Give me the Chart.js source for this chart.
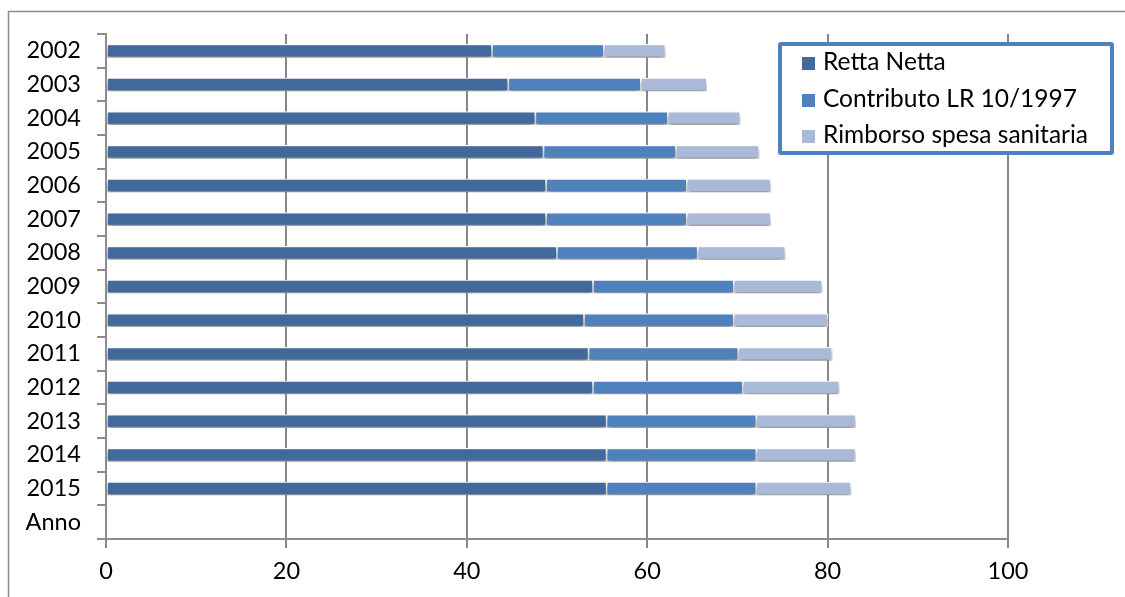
<!DOCTYPE html>
<html lang="it">
<head>
<meta charset="utf-8">
<script src="https://cdn.jsdelivr.net/npm/chart.js@4.4.1/dist/chart.umd.min.js"></script>
<style>
    body { margin: 0; background: #ffffff; }
    #contenitore { position: relative; width: 1125px; height: 597px; }
    #legenda {
        position: absolute;
        left: 778px;
        top: 42px;
        width: 336px;
        height: 113px;
        border: 4px solid #4f81bd;
        border-radius: 3px;
        background: #ffffff;
        font-family: Lato, "Open Sans", sans-serif;
        font-size: 24.5px;
        color: #000000;
        box-sizing: border-box;
        padding-top: 0px;
    }
    .voce { position: relative; top: -3px; height: 36.5px; line-height: 36.5px; padding-left: 20px; white-space: nowrap; }
    .quadrato { display: inline-block; width: 13px; height: 13px; margin-right: 8px; vertical-align: 0px; }
</style>
</head>
<body>
<div id="contenitore">
    <canvas id="graficoRette" width="1125" height="597"></canvas>
    <div id="legenda"></div>
</div>
<script>
const anni = ['2002', '2003', '2004', '2005', '2006', '2007', '2008', '2009', '2010', '2011', '2012', '2013', '2014', '2015', 'Anno'];

// valori (l'ultima riga "Anno" e' vuota)
const rettaNetta = [42.8, 44.6, 47.6, 48.5, 48.8, 48.8, 50.0, 54.0, 53.0, 53.5, 54.0, 55.5, 55.5, 55.5, null];
const contributoLR = [12.4, 14.7, 14.7, 14.7, 15.6, 15.6, 15.6, 15.6, 16.6, 16.6, 16.6, 16.6, 16.6, 16.6, null];
const rimborsoSanitario = [6.8, 7.3, 8.0, 9.2, 9.3, 9.3, 9.7, 9.8, 10.4, 10.4, 10.7, 11.0, 11.0, 10.5, null];

const tickAsseX = [0, 20, 40, 60, 80, 100];

const coloriSerie = ['#41699c', '#4f81bd', '#a9b9d7'];
const fontGrafico = 'Lato, "Open Sans", sans-serif';

// ombra sotto le barre
const pluginOmbra = {
    id: 'ombraBarre',
    beforeDatasetsDraw(chart) {
        const ctx = chart.ctx;
        ctx.save();
        ctx.shadowColor = 'rgba(0, 0, 0, 0.45)';
        ctx.shadowBlur = 4;
        ctx.shadowOffsetY = 3;
    },
    afterDatasetsDraw(chart) {
        chart.ctx.restore();
    }
};

// cornice esterna (solo lato sinistro e superiore sono visibili)
const pluginCornice = {
    id: 'cornice',
    beforeDraw(chart) {
        const ctx = chart.ctx;
        ctx.save();
        ctx.strokeStyle = '#8c8c8c';
        ctx.lineWidth = 1.5;
        ctx.beginPath();
        ctx.moveTo(8.5, 597);
        ctx.lineTo(8.5, 11.5);
        ctx.lineTo(1125, 11.5);
        ctx.stroke();
        ctx.restore();
    }
};

const ctxRette = document.getElementById('graficoRette').getContext('2d');
const graficoRette = new Chart(ctxRette, {
    type: 'bar',
    data: {
        labels: anni,
        datasets: [{
            label: 'Retta Netta',
            data: rettaNetta,
            backgroundColor: coloriSerie[0]
        }, {
            label: 'Contributo LR 10/1997',
            data: contributoLR,
            backgroundColor: coloriSerie[1]
        }, {
            label: 'Rimborso spesa sanitaria',
            data: rimborsoSanitario,
            backgroundColor: coloriSerie[2]
        }]
    },
    options: {
        indexAxis: 'y',
        responsive: false,
        animation: false,
        devicePixelRatio: 1,
        layout: {
            padding: { left: 0, top: 34, right: 117, bottom: 0 }
        },
        datasets: {
            bar: {
                barThickness: 13,
                borderColor: '#ffffff',
                borderWidth: 1.2,
                borderSkipped: false
            }
        },
        scales: {
            x: {
                stacked: true,
                min: 0,
                max: 100,
                afterBuildTicks: (scala) => {
                    scala.ticks = tickAsseX.map(v => ({ value: v }));
                },
                afterFit: (scala) => {
                    scala.height = 58;
                },
                grid: {
                    color: '#878787',
                    lineWidth: 2,
                    tickLength: 9,
                    tickColor: '#878787'
                },
                border: {
                    display: true,
                    color: '#8c8c8c',
                    width: 2
                },
                ticks: {
                    color: '#000000',
                    padding: 9,
                    font: { family: fontGrafico, size: 23.5 }
                }
            },
            y: {
                stacked: true,
                afterFit: (scala) => {
                    scala.width = 106;
                },
                grid: {
                    drawOnChartArea: false,
                    offset: true,
                    color: '#8c8c8c',
                    lineWidth: 2,
                    tickLength: 9
                },
                border: {
                    display: true,
                    color: '#8c8c8c',
                    width: 2
                },
                ticks: {
                    color: '#000000',
                    padding: 16,
                    font: { family: fontGrafico, size: 23.5 }
                }
            }
        },
        plugins: {
            legend: { display: false },
            tooltip: { enabled: false }
        }
    },
    plugins: [pluginCornice, pluginOmbra]
});

// legenda in html, costruita dai dataset
const legenda = document.getElementById('legenda');
graficoRette.data.datasets.forEach(ds => {
    const voce = document.createElement('div');
    voce.className = 'voce';
    const quadrato = document.createElement('span');
    quadrato.className = 'quadrato';
    quadrato.style.background = ds.backgroundColor;
    voce.appendChild(quadrato);
    voce.appendChild(document.createTextNode(ds.label));
    legenda.appendChild(voce);
});
</script>
</body>
</html>
